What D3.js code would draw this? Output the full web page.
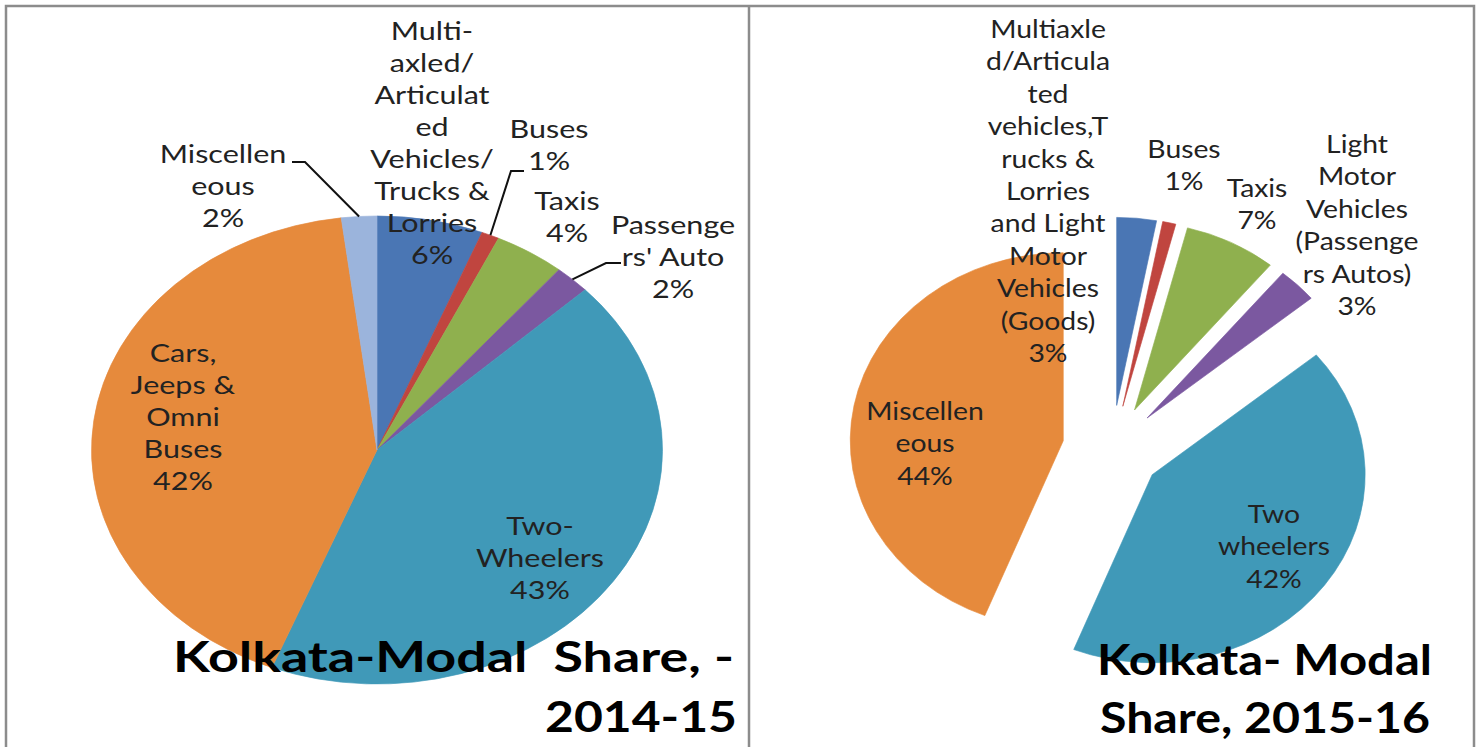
<!DOCTYPE html>
<html>
<head>
<meta charset="utf-8">
<script src="https://cdn.jsdelivr.net/npm/d3@7"></script>
<style>
	body { margin: 0; background: #fff; }
	svg { display: block; }
</style>
</head>
<body>
<div id="chart"></div>
<script>
/*
	Kolkata modal share, two pies side by side (2014-15 and 2015-16).
*/

// category names, wrapped the way the source chart wraps them
var cats1415 = [
	["Multi-", "axled/", "Articulat", "ed", "Vehicles/", "Trucks &", "Lorries"],
	["Buses"],
	["Taxis"],
	["Passenge", "rs' Auto"],
	["Two-", "Wheelers"],
	["Cars,", "Jeeps &", "Omni", "Buses"],
	["Miscellen", "eous"]
];
var share1415 = [6, 1, 4, 2, 43, 42, 2];

var cats1516 = [
	["Multiaxle", "d/Articula", "ted", "vehicles,T", "rucks &", "Lorries", "and Light", "Motor", "Vehicles", "(Goods)"],
	["Buses"],
	["Taxis"],
	["Light", "Motor", "Vehicles", "(Passenge", "rs Autos)"],
	["Two", "wheelers"],
	["Miscellen", "eous"]
];
var share1516 = [3, 1, 7, 3, 42, 44];

var colors1415 = ['#4a76b4', '#c0453f', '#8fb04e', '#7b58a0', '#4099b8', '#e68a3c', '#9bb4dc'];
var colors1516 = ['#4a76b4', '#c0453f', '#8fb04e', '#7b58a0', '#4099b8', '#e68a3c'];

var title1415 = ["Kolkata-Modal\u00a0\u00a0Share, -", "2014-15"];
var title1516 = ["Kolkata- Modal", "Share, 2015-16"];

var width = 1480, height = 747;

var svg = d3.select('#chart').append('svg')
	.attr('width', width)
	.attr('height', height);

svg.append('rect')
	.attr('width', width)
	.attr('height', height)
	.attr('fill', '#fff');

// frame of the two panels
var frame = d3.path();
frame.moveTo(6, height);
frame.lineTo(6, 6);
frame.lineTo(1474, 6);
frame.lineTo(1474, height);
frame.moveTo(749, 6);
frame.lineTo(749, height);
svg.append('path')
	.attr('d', frame.toString())
	.attr('fill', 'none')
	.attr('stroke', '#8c8c8c')
	.attr('stroke-width', 2.5);

function drawPie(cats, values, colors, title, opt) {
	var pie = d3.pie().sort(null).value(function(d){ return d; });
	var arcs = pie(values);

	var arc = d3.arc()
		.innerRadius(0)
		.outerRadius(opt.r);

	var g = svg.append('g')
		.attr('transform', 'translate(' + opt.cx + ',' + opt.cy + ') scale(' + opt.sx + ',1)');

	g.selectAll('path.slice')
		.data(arcs)
		.enter().append('path')
		.attr('class', 'slice')
		.attr('fill', function(d, i){ return colors[i]; })
		.attr('stroke', function(d, i){ return colors[i]; })
		.attr('stroke-width', 0.6)
		.attr('d', arc)
		.attr('transform', function(d){
			var mid = (d.startAngle + d.endAngle) / 2;
			var dx = opt.explode * Math.sin(mid);
			var dy = -opt.explode * Math.cos(mid);
			return 'translate(' + dx + ',' + dy + ')';
		});

	// leader lines: from label elbow to the slice rim
	var line = d3.line();
	Object.keys(opt.leaders).forEach(function(k){
		var d = arcs[k];
		var mid = (d.startAngle + d.endAngle) / 2;
		var rim = [opt.cx + opt.r * Math.sin(mid) * opt.sx, opt.cy - opt.r * Math.cos(mid)];
		svg.append('path')
			.attr('d', line(opt.leaders[k].concat([rim])))
			.attr('fill', 'none')
			.attr('stroke', '#111')
			.attr('stroke-width', 2);
	});

	// data labels: name lines then the share
	arcs.forEach(function(d, i){
		var lines = cats[i].concat([values[i] + '%']);
		var pos = opt.labels[i];
		lines.forEach(function(t, j){
			svg.append('text')
				.attr('transform', 'translate(' + pos[0] + ',' + (pos[1] + j * opt.lineH) + ') scale(' + opt.sx + ',1)')
				.attr('text-anchor', 'middle')
				.style('font-family', 'Lato, "Open Sans", sans-serif')
				.style('font-size', '25px')
				.attr('fill', '#222')
				.text(t);
		});
	});

	title.forEach(function(t, j){
		svg.append('text')
			.attr('x', opt.title.x[j])
			.attr('y', opt.title.y[j])
			.attr('textLength', opt.title.w[j])
			.attr('lengthAdjust', 'spacingAndGlyphs')
			.style('font-family', 'Lato, "Open Sans", sans-serif')
			.style('font-size', '42px')
			.style('font-weight', 'bold')
			.attr('fill', '#000')
			.text(t);
	});
}

drawPie(cats1415, share1415, colors1415, title1415, {
	cx: 377, cy: 450, r: 234, sx: 1.22, explode: 0, lineH: 32,
	labels: [[432, 40], [549, 138], [567, 210], [673, 234], [540, 535], [183, 362], [223, 163]],
	leaders: { 1: [[524, 171], [511, 171]], 3: [[621, 263], [606, 263]], 6: [[292, 162], [305, 162]] },
	title: { x: [173, 545], y: [672, 732], w: [561, 192] }
});

drawPie(cats1516, share1516, colors1516, title1516, {
	cx: 1112, cy: 449, r: 188, sx: 1.133, explode: 43.8, lineH: 32.4,
	labels: [[1048, 38], [1184, 158], [1257, 197], [1357, 153], [1274, 523], [925, 420]],
	leaders: {},
	title: { x: [1097, 1100], y: [675, 733], w: [335, 330] }
});
</script>
</body>
</html>
